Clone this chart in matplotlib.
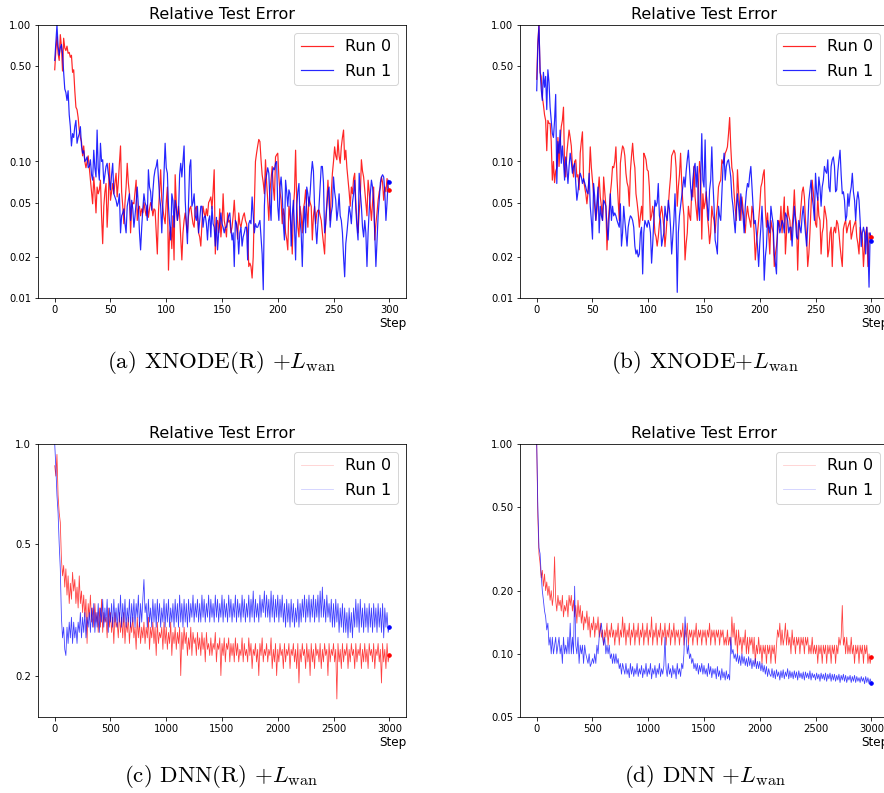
import numpy as np
import matplotlib
matplotlib.use('Agg')
import matplotlib.pyplot as plt
from matplotlib.ticker import FormatStrFormatter, NullLocator

plt.rcParams['mathtext.fontset'] = 'cm'

# (a) XNODE(R) + L_wan, one value per step
a_run0 = [
    0.47, 0.65, 0.82, 0.62, 0.55, 0.85, 0.70, 0.46, 0.80, 0.68,
    0.65, 0.70, 0.62, 0.63, 0.58, 0.60, 0.45, 0.47, 0.33, 0.25,
    0.24, 0.21, 0.17, 0.15, 0.14, 0.11, 0.13, 0.10, 0.09, 0.10,
    0.11, 0.09, 0.073, 0.06, 0.049, 0.077, 0.06, 0.042, 0.065, 0.058,
    0.062, 0.073, 0.04, 0.025, 0.047, 0.06, 0.069, 0.033, 0.05, 0.097,
    0.052, 0.06, 0.069, 0.058, 0.07, 0.082, 0.055, 0.07, 0.097, 0.13,
    0.06, 0.047, 0.035, 0.05, 0.065, 0.097, 0.07, 0.058, 0.03, 0.045,
    0.05, 0.049, 0.06, 0.073, 0.037, 0.045, 0.047, 0.04, 0.045, 0.042,
    0.05, 0.044, 0.04, 0.048, 0.039, 0.045, 0.05, 0.047, 0.04, 0.045,
    0.044, 0.03, 0.021, 0.042, 0.06, 0.087, 0.052, 0.045, 0.039, 0.035,
    0.05, 0.065, 0.016, 0.03, 0.033, 0.023, 0.04, 0.019, 0.08, 0.05,
    0.037, 0.047, 0.04, 0.028, 0.019, 0.03, 0.037, 0.042, 0.035, 0.03,
    0.04, 0.045, 0.047, 0.04, 0.035, 0.033, 0.045, 0.047, 0.04, 0.03,
    0.028, 0.024, 0.035, 0.047, 0.042, 0.039, 0.045, 0.04, 0.05, 0.052,
    0.055, 0.045, 0.06, 0.087, 0.021, 0.035, 0.037, 0.03, 0.045, 0.028,
    0.035, 0.058, 0.037, 0.033, 0.028, 0.042, 0.036, 0.037, 0.03, 0.033,
    0.04, 0.052, 0.037, 0.035, 0.027, 0.042, 0.035, 0.033, 0.037, 0.04,
    0.042, 0.037, 0.035, 0.03, 0.017, 0.018, 0.017, 0.014, 0.02, 0.047,
    0.1, 0.115, 0.13, 0.145, 0.14, 0.103, 0.08, 0.07, 0.058, 0.103,
    0.07, 0.052, 0.037, 0.06, 0.075, 0.092, 0.065, 0.052, 0.108, 0.112,
    0.115, 0.077, 0.06, 0.052, 0.035, 0.045, 0.04, 0.03, 0.027, 0.0225,
    0.047, 0.04, 0.033, 0.021, 0.045, 0.06, 0.121, 0.05, 0.033, 0.028,
    0.047, 0.04, 0.03, 0.045, 0.05, 0.062, 0.045, 0.033, 0.055, 0.05,
    0.047, 0.0266, 0.04, 0.047, 0.035, 0.042, 0.044, 0.044, 0.04, 0.037,
    0.03, 0.025, 0.021, 0.037, 0.05, 0.073, 0.05, 0.037, 0.058, 0.082,
    0.1, 0.128, 0.11, 0.103, 0.144, 0.11, 0.097, 0.128, 0.15, 0.17,
    0.103, 0.121, 0.09, 0.073, 0.06, 0.047, 0.065, 0.058, 0.075, 0.082,
    0.05, 0.037, 0.03, 0.042, 0.055, 0.103, 0.085, 0.077, 0.062, 0.05,
    0.04, 0.073, 0.06, 0.047, 0.037, 0.05, 0.065, 0.0266, 0.035, 0.042,
    0.052, 0.06, 0.065, 0.077, 0.07, 0.052, 0.065, 0.06, 0.075, 0.065,
    0.062,
]
a_run1 = [
    0.55, 0.75, 1.0, 0.70, 0.6, 0.68, 0.72, 0.62, 0.45, 0.34,
    0.32, 0.28, 0.33, 0.22, 0.18, 0.13, 0.16, 0.15, 0.18, 0.2,
    0.136, 0.15, 0.16, 0.18, 0.13, 0.115, 0.12, 0.1, 0.103, 0.108,
    0.09, 0.092, 0.103, 0.08, 0.073, 0.121, 0.09, 0.077, 0.17, 0.09,
    0.073, 0.136, 0.1, 0.103, 0.069, 0.08, 0.092, 0.097, 0.082, 0.073,
    0.062, 0.08, 0.097, 0.058, 0.055, 0.052, 0.047, 0.05, 0.058, 0.03,
    0.04, 0.042, 0.045, 0.035, 0.03, 0.047, 0.052, 0.058, 0.037, 0.052,
    0.045, 0.033, 0.04, 0.05, 0.065, 0.047, 0.03, 0.0225, 0.033, 0.045,
    0.058, 0.05, 0.047, 0.037, 0.087, 0.065, 0.06, 0.044, 0.06, 0.077,
    0.087, 0.092, 0.103, 0.075, 0.055, 0.047, 0.03, 0.05, 0.087, 0.136,
    0.09, 0.082, 0.047, 0.035, 0.0266, 0.058, 0.052, 0.033, 0.052, 0.045,
    0.037, 0.042, 0.08, 0.097, 0.077, 0.1, 0.13, 0.052, 0.035, 0.025,
    0.05, 0.092, 0.103, 0.047, 0.05, 0.058, 0.04, 0.037, 0.047, 0.03,
    0.037, 0.047, 0.047, 0.033, 0.039, 0.04, 0.035, 0.0266, 0.037, 0.04,
    0.028, 0.047, 0.035, 0.033, 0.024, 0.039, 0.0225, 0.03, 0.035, 0.042,
    0.035, 0.033, 0.03, 0.033, 0.033, 0.037, 0.04, 0.042, 0.032, 0.0266,
    0.03, 0.017, 0.037, 0.035, 0.03, 0.021, 0.03, 0.033, 0.024, 0.028,
    0.03, 0.033, 0.033, 0.019, 0.035, 0.037, 0.035, 0.055, 0.04, 0.03,
    0.035, 0.033, 0.033, 0.035, 0.037, 0.028, 0.021, 0.0115, 0.047, 0.073,
    0.08, 0.09, 0.082, 0.05, 0.037, 0.08, 0.09, 0.087, 0.097, 0.1,
    0.047, 0.037, 0.065, 0.077, 0.058, 0.035, 0.0266, 0.073, 0.06, 0.047,
    0.062, 0.058, 0.024, 0.04, 0.052, 0.033, 0.019, 0.047, 0.06, 0.069,
    0.037, 0.03, 0.017, 0.035, 0.047, 0.03, 0.065, 0.058, 0.047, 0.058,
    0.08, 0.1, 0.085, 0.047, 0.033, 0.025, 0.035, 0.047, 0.065, 0.092,
    0.092, 0.07, 0.03, 0.035, 0.047, 0.06, 0.065, 0.033, 0.042, 0.047,
    0.077, 0.06, 0.052, 0.037, 0.044, 0.058, 0.04, 0.037, 0.03, 0.02,
    0.0143, 0.025, 0.03, 0.037, 0.047, 0.042, 0.035, 0.05, 0.058, 0.073,
    0.045, 0.033, 0.0266, 0.082, 0.06, 0.047, 0.033, 0.028, 0.037, 0.03,
    0.017, 0.03, 0.044, 0.058, 0.073, 0.065, 0.05, 0.03, 0.017, 0.0266,
    0.04, 0.052, 0.07, 0.077, 0.08, 0.077, 0.06, 0.037, 0.05, 0.073,
    0.071,
]

# (b) XNODE + L_wan, one value per step
b_run0 = [
    0.40, 0.75, 1.0, 0.45, 0.42, 0.30, 0.26, 0.22, 0.20, 0.12,
    0.20, 0.19, 0.19, 0.14, 0.073, 0.10, 0.07, 0.085, 0.09, 0.15,
    0.092, 0.136, 0.18, 0.2, 0.25, 0.087, 0.077, 0.115, 0.14, 0.17,
    0.15, 0.13, 0.092, 0.077, 0.1, 0.103, 0.077, 0.08, 0.062, 0.115,
    0.14, 0.165, 0.073, 0.065, 0.058, 0.049, 0.06, 0.077, 0.128, 0.09,
    0.073, 0.058, 0.047, 0.037, 0.044, 0.06, 0.077, 0.055, 0.047, 0.037,
    0.077, 0.06, 0.047, 0.0225, 0.035, 0.045, 0.058, 0.07, 0.092, 0.09,
    0.1, 0.128, 0.075, 0.052, 0.037, 0.097, 0.115, 0.13, 0.125, 0.11,
    0.082, 0.07, 0.065, 0.047, 0.085, 0.11, 0.136, 0.103, 0.09, 0.058,
    0.05, 0.042, 0.033, 0.04, 0.047, 0.037, 0.115, 0.11, 0.103, 0.087,
    0.085, 0.065, 0.037, 0.04, 0.047, 0.04, 0.03, 0.028, 0.024, 0.028,
    0.035, 0.042, 0.047, 0.04, 0.033, 0.0238, 0.03, 0.04, 0.047, 0.062,
    0.077, 0.11, 0.115, 0.121, 0.115, 0.09, 0.047, 0.065, 0.08, 0.115,
    0.07, 0.05, 0.04, 0.019, 0.025, 0.03, 0.047, 0.04, 0.037, 0.062,
    0.055, 0.092, 0.055, 0.045, 0.037, 0.065, 0.1, 0.08, 0.027, 0.058,
    0.045, 0.05, 0.06, 0.04, 0.033, 0.025, 0.03, 0.047, 0.04, 0.037,
    0.03, 0.04, 0.047, 0.065, 0.07, 0.073, 0.103, 0.097, 0.1, 0.115,
    0.12, 0.128, 0.16, 0.21, 0.128, 0.09, 0.082, 0.058, 0.045, 0.037,
    0.087, 0.06, 0.047, 0.037, 0.055, 0.045, 0.037, 0.03, 0.04, 0.047,
    0.04, 0.037, 0.033, 0.047, 0.042, 0.03, 0.019, 0.025, 0.03, 0.037,
    0.047, 0.065, 0.07, 0.08, 0.087, 0.045, 0.033, 0.042, 0.03, 0.021,
    0.037, 0.033, 0.03, 0.017, 0.021, 0.024, 0.03, 0.037, 0.033, 0.047,
    0.03, 0.04, 0.055, 0.021, 0.03, 0.047, 0.04, 0.037, 0.0266, 0.033,
    0.042, 0.062, 0.04, 0.035, 0.016, 0.03, 0.037, 0.047, 0.06, 0.065,
    0.055, 0.037, 0.028, 0.017, 0.021, 0.03, 0.047, 0.073, 0.06, 0.047,
    0.035, 0.033, 0.055, 0.04, 0.037, 0.021, 0.03, 0.033, 0.047, 0.042,
    0.037, 0.02, 0.0225, 0.03, 0.033, 0.017, 0.03, 0.033, 0.03, 0.037,
    0.035, 0.03, 0.024, 0.02, 0.017, 0.032, 0.035, 0.037, 0.03, 0.033,
    0.035, 0.037, 0.027, 0.03, 0.033, 0.035, 0.037, 0.028, 0.025, 0.021,
    0.033, 0.03, 0.027, 0.017, 0.024, 0.03, 0.033, 0.017, 0.03, 0.029,
    0.028,
]
b_run1 = [
    0.33, 0.7, 1.0, 0.47, 0.34, 0.28, 0.45, 0.35, 0.42, 0.24,
    0.47, 0.38, 0.25, 0.2, 0.16, 0.15, 0.2, 0.31, 0.069, 0.14,
    0.115, 0.17, 0.097, 0.13, 0.1, 0.073, 0.108, 0.09, 0.069, 0.092,
    0.115, 0.1, 0.082, 0.092, 0.097, 0.069, 0.052, 0.06, 0.073, 0.082,
    0.077, 0.069, 0.075, 0.07, 0.065, 0.06, 0.058, 0.082, 0.047, 0.037,
    0.027, 0.069, 0.055, 0.037, 0.05, 0.065, 0.03, 0.047, 0.04, 0.037,
    0.052, 0.05, 0.047, 0.033, 0.0266, 0.04, 0.058, 0.037, 0.047, 0.04,
    0.042, 0.04, 0.037, 0.035, 0.033, 0.049, 0.024, 0.03, 0.047, 0.037,
    0.03, 0.024, 0.033, 0.037, 0.04, 0.039, 0.037, 0.033, 0.024, 0.021,
    0.0225, 0.02, 0.021, 0.03, 0.033, 0.015, 0.03, 0.037, 0.035, 0.033,
    0.037, 0.035, 0.03, 0.018, 0.025, 0.037, 0.052, 0.047, 0.05, 0.069,
    0.04, 0.037, 0.024, 0.027, 0.03, 0.047, 0.04, 0.037, 0.052, 0.045,
    0.033, 0.021, 0.028, 0.037, 0.058, 0.033, 0.011, 0.03, 0.04, 0.047,
    0.055, 0.065, 0.077, 0.065, 0.085, 0.103, 0.121, 0.09, 0.065, 0.052,
    0.073, 0.09, 0.097, 0.065, 0.092, 0.047, 0.037, 0.073, 0.16, 0.073,
    0.065, 0.144, 0.058, 0.047, 0.037, 0.062, 0.073, 0.128, 0.07, 0.047,
    0.0266, 0.024, 0.021, 0.047, 0.04, 0.037, 0.058, 0.09, 0.115, 0.073,
    0.092, 0.1, 0.103, 0.09, 0.077, 0.055, 0.047, 0.037, 0.03, 0.045,
    0.058, 0.047, 0.037, 0.058, 0.047, 0.04, 0.03, 0.047, 0.06, 0.069,
    0.065, 0.08, 0.092, 0.065, 0.047, 0.035, 0.037, 0.03, 0.024, 0.017,
    0.025, 0.033, 0.047, 0.03, 0.0135, 0.02, 0.024, 0.037, 0.033, 0.03,
    0.047, 0.04, 0.035, 0.021, 0.018, 0.015, 0.037, 0.035, 0.03, 0.033,
    0.037, 0.035, 0.03, 0.042, 0.04, 0.037, 0.03, 0.033, 0.033, 0.024,
    0.035, 0.047, 0.037, 0.028, 0.027, 0.037, 0.033, 0.03, 0.04, 0.047,
    0.037, 0.03, 0.024, 0.033, 0.052, 0.062, 0.073, 0.055, 0.047, 0.037,
    0.082, 0.06, 0.052, 0.077, 0.065, 0.047, 0.065, 0.073, 0.092, 0.085,
    0.082, 0.103, 0.065, 0.06, 0.092, 0.103, 0.108, 0.092, 0.06, 0.062,
    0.085, 0.103, 0.121, 0.08, 0.058, 0.06, 0.052, 0.037, 0.04, 0.058,
    0.047, 0.058, 0.065, 0.082, 0.06, 0.052, 0.037, 0.052, 0.06, 0.052,
    0.037, 0.0238, 0.03, 0.033, 0.03, 0.021, 0.033, 0.0238, 0.012, 0.03,
    0.026,
]

# (c) DNN(R) + L_wan, read every 10 steps
c_run0 = [
    0.86, 0.80, 0.93, 0.70, 0.62, 0.58, 0.45, 0.40, 0.43, 0.37,
    0.42, 0.35, 0.40, 0.33, 0.38, 0.34, 0.41, 0.36, 0.39, 0.33,
    0.37, 0.32, 0.40, 0.33, 0.36, 0.31, 0.35, 0.30, 0.34, 0.25,
    0.33, 0.30, 0.35, 0.29, 0.32, 0.28, 0.33, 0.29, 0.31, 0.27,
    0.32, 0.28, 0.34, 0.27, 0.31, 0.29, 0.30, 0.26, 0.32, 0.28,
    0.31, 0.27, 0.30, 0.25, 0.31, 0.28, 0.29, 0.26, 0.31, 0.27,
    0.30, 0.26, 0.31, 0.25, 0.29, 0.27, 0.30, 0.25, 0.29, 0.27,
    0.30, 0.26, 0.28, 0.24, 0.30, 0.26, 0.29, 0.25, 0.28, 0.26,
    0.29, 0.25, 0.28, 0.26, 0.30, 0.24, 0.28, 0.26, 0.29, 0.25,
    0.28, 0.23, 0.29, 0.25, 0.27, 0.26, 0.28, 0.24, 0.29, 0.25,
    0.28, 0.24, 0.27, 0.25, 0.29, 0.23, 0.27, 0.25, 0.28, 0.24,
    0.27, 0.25, 0.28, 0.20, 0.27, 0.24, 0.28, 0.25, 0.27, 0.23,
    0.26, 0.24, 0.28, 0.23, 0.27, 0.25, 0.26, 0.23, 0.27, 0.24,
    0.26, 0.23, 0.27, 0.24, 0.26, 0.22, 0.27, 0.24, 0.25, 0.23,
    0.26, 0.23, 0.25, 0.24, 0.27, 0.22, 0.25, 0.24, 0.26, 0.20,
    0.25, 0.23, 0.26, 0.22, 0.25, 0.24, 0.26, 0.22, 0.25, 0.23,
    0.25, 0.22, 0.26, 0.23, 0.25, 0.22, 0.24, 0.23, 0.26, 0.22,
    0.25, 0.23, 0.24, 0.22, 0.26, 0.23, 0.25, 0.21, 0.24, 0.23,
    0.25, 0.22, 0.24, 0.20, 0.25, 0.23, 0.26, 0.22, 0.24, 0.23,
    0.25, 0.22, 0.24, 0.23, 0.26, 0.21, 0.24, 0.22, 0.25, 0.20,
    0.24, 0.22, 0.25, 0.23, 0.24, 0.21, 0.25, 0.22, 0.24, 0.23,
    0.25, 0.21, 0.24, 0.23, 0.25, 0.22, 0.24, 0.21, 0.25, 0.19,
    0.24, 0.22, 0.25, 0.23, 0.24, 0.21, 0.25, 0.22, 0.24, 0.20,
    0.25, 0.22, 0.24, 0.21, 0.25, 0.23, 0.24, 0.22, 0.25, 0.21,
    0.24, 0.22, 0.25, 0.23, 0.24, 0.20, 0.25, 0.22, 0.24, 0.23,
    0.25, 0.22, 0.24, 0.17, 0.25, 0.22, 0.24, 0.21, 0.25, 0.22,
    0.24, 0.23, 0.25, 0.21, 0.24, 0.22, 0.25, 0.23, 0.24, 0.21,
    0.25, 0.22, 0.24, 0.23, 0.25, 0.21, 0.24, 0.22, 0.25, 0.22,
    0.24, 0.21, 0.25, 0.23, 0.24, 0.22, 0.25, 0.21, 0.24, 0.23,
    0.25, 0.22, 0.24, 0.19, 0.25, 0.22, 0.24, 0.21, 0.25, 0.22,
    0.23,
]
c_run1 = [
    1.0, 0.85, 0.70, 0.62, 0.50, 0.42, 0.30, 0.26, 0.28, 0.24,
    0.23, 0.28, 0.25, 0.29, 0.26, 0.30, 0.25, 0.29, 0.26, 0.28,
    0.25, 0.29, 0.27, 0.31, 0.26, 0.30, 0.27, 0.31, 0.26, 0.30,
    0.28, 0.31, 0.27, 0.32, 0.28, 0.33, 0.27, 0.31, 0.28, 0.33,
    0.27, 0.32, 0.29, 0.34, 0.28, 0.32, 0.29, 0.34, 0.27, 0.32,
    0.29, 0.33, 0.28, 0.34, 0.29, 0.32, 0.28, 0.33, 0.29, 0.35,
    0.28, 0.33, 0.29, 0.34, 0.28, 0.32, 0.29, 0.34, 0.28, 0.33,
    0.29, 0.34, 0.28, 0.33, 0.30, 0.35, 0.28, 0.33, 0.29, 0.34,
    0.39, 0.31, 0.33, 0.28, 0.34, 0.29, 0.32, 0.28, 0.34, 0.29,
    0.33, 0.28, 0.34, 0.29, 0.33, 0.28, 0.32, 0.29, 0.34, 0.28,
    0.33, 0.29, 0.34, 0.28, 0.32, 0.29, 0.33, 0.28, 0.34, 0.29,
    0.33, 0.28, 0.35, 0.29, 0.33, 0.28, 0.34, 0.29, 0.33, 0.28,
    0.34, 0.29, 0.33, 0.30, 0.35, 0.29, 0.33, 0.30, 0.34, 0.29,
    0.33, 0.29, 0.35, 0.30, 0.34, 0.29, 0.33, 0.30, 0.35, 0.29,
    0.34, 0.30, 0.33, 0.29, 0.35, 0.30, 0.34, 0.29, 0.33, 0.30,
    0.35, 0.29, 0.34, 0.30, 0.33, 0.29, 0.35, 0.30, 0.34, 0.29,
    0.33, 0.30, 0.35, 0.29, 0.34, 0.30, 0.33, 0.29, 0.35, 0.30,
    0.34, 0.29, 0.33, 0.30, 0.35, 0.29, 0.34, 0.30, 0.36, 0.29,
    0.34, 0.30, 0.33, 0.29, 0.35, 0.30, 0.34, 0.31, 0.36, 0.30,
    0.35, 0.30, 0.34, 0.29, 0.36, 0.30, 0.35, 0.29, 0.34, 0.30,
    0.35, 0.29, 0.34, 0.30, 0.35, 0.29, 0.33, 0.28, 0.34, 0.29,
    0.33, 0.28, 0.34, 0.29, 0.33, 0.28, 0.32, 0.29, 0.34, 0.28,
    0.33, 0.29, 0.34, 0.30, 0.35, 0.29, 0.34, 0.30, 0.35, 0.29,
    0.34, 0.30, 0.35, 0.29, 0.34, 0.30, 0.35, 0.29, 0.36, 0.30,
    0.37, 0.30, 0.34, 0.29, 0.35, 0.30, 0.33, 0.29, 0.34, 0.28,
    0.33, 0.28, 0.34, 0.29, 0.33, 0.27, 0.32, 0.28, 0.33, 0.27,
    0.32, 0.27, 0.31, 0.26, 0.32, 0.27, 0.31, 0.26, 0.32, 0.28,
    0.34, 0.28, 0.33, 0.27, 0.34, 0.28, 0.32, 0.27, 0.33, 0.28,
    0.32, 0.27, 0.33, 0.28, 0.32, 0.27, 0.33, 0.28, 0.32, 0.27,
    0.33, 0.28, 0.32, 0.27, 0.33, 0.26, 0.32, 0.28, 0.31, 0.27,
    0.28,
]

# (d) DNN + L_wan, read every 10 steps
d_run0 = [
    1.0, 0.45, 0.30, 0.27, 0.23, 0.25, 0.21, 0.24, 0.20, 0.22,
    0.19, 0.21, 0.18, 0.20, 0.17, 0.19, 0.29, 0.18, 0.16, 0.19,
    0.17, 0.18, 0.16, 0.19, 0.15, 0.17, 0.16, 0.18, 0.15, 0.19,
    0.17, 0.19, 0.16, 0.18, 0.15, 0.17, 0.14, 0.18, 0.15, 0.17,
    0.14, 0.16, 0.13, 0.15, 0.14, 0.16, 0.13, 0.15, 0.12, 0.14,
    0.13, 0.15, 0.12, 0.14, 0.13, 0.15, 0.12, 0.14, 0.12, 0.13,
    0.11, 0.13, 0.12, 0.14, 0.11, 0.13, 0.12, 0.14, 0.12, 0.13,
    0.11, 0.13, 0.12, 0.14, 0.11, 0.13, 0.12, 0.15, 0.12, 0.14,
    0.11, 0.13, 0.12, 0.14, 0.11, 0.13, 0.12, 0.14, 0.11, 0.13,
    0.12, 0.14, 0.11, 0.13, 0.12, 0.14, 0.11, 0.13, 0.12, 0.14,
    0.11, 0.13, 0.12, 0.15, 0.11, 0.13, 0.12, 0.14, 0.11, 0.13,
    0.12, 0.14, 0.11, 0.13, 0.12, 0.14, 0.11, 0.13, 0.12, 0.14,
    0.11, 0.13, 0.12, 0.14, 0.11, 0.13, 0.12, 0.13, 0.11, 0.13,
    0.12, 0.14, 0.11, 0.13, 0.12, 0.14, 0.11, 0.13, 0.12, 0.13,
    0.11, 0.13, 0.12, 0.14, 0.11, 0.13, 0.12, 0.13, 0.11, 0.13,
    0.12, 0.13, 0.11, 0.13, 0.12, 0.14, 0.11, 0.13, 0.12, 0.13,
    0.11, 0.13, 0.12, 0.13, 0.11, 0.13, 0.12, 0.13, 0.11, 0.12,
    0.11, 0.13, 0.11, 0.12, 0.11, 0.15, 0.12, 0.14, 0.11, 0.13,
    0.10, 0.13, 0.11, 0.12, 0.10, 0.12, 0.11, 0.13, 0.10, 0.12,
    0.10, 0.12, 0.11, 0.12, 0.10, 0.12, 0.09, 0.11, 0.10, 0.12,
    0.10, 0.11, 0.09, 0.11, 0.10, 0.11, 0.09, 0.11, 0.10, 0.11,
    0.09, 0.11, 0.10, 0.11, 0.09, 0.11, 0.13, 0.12, 0.14, 0.11,
    0.13, 0.11, 0.12, 0.14, 0.11, 0.13, 0.11, 0.12, 0.10, 0.13,
    0.11, 0.12, 0.10, 0.12, 0.11, 0.12, 0.10, 0.12, 0.11, 0.12,
    0.10, 0.12, 0.11, 0.12, 0.10, 0.11, 0.10, 0.12, 0.10, 0.11,
    0.10, 0.11, 0.09, 0.11, 0.10, 0.11, 0.09, 0.11, 0.10, 0.11,
    0.09, 0.11, 0.10, 0.11, 0.09, 0.11, 0.10, 0.11, 0.09, 0.11,
    0.10, 0.12, 0.11, 0.12, 0.17, 0.11, 0.12, 0.10, 0.12, 0.10,
    0.11, 0.10, 0.12, 0.10, 0.11, 0.09, 0.11, 0.10, 0.11, 0.09,
    0.11, 0.10, 0.11, 0.09, 0.11, 0.10, 0.11, 0.09, 0.10, 0.09,
    0.097,
]
d_run1 = [
    1.0, 0.50, 0.32, 0.30, 0.24, 0.20, 0.18, 0.16, 0.15, 0.13,
    0.14, 0.11, 0.12, 0.10, 0.12, 0.10, 0.11, 0.12, 0.10, 0.11,
    0.12, 0.10, 0.11, 0.09, 0.12, 0.10, 0.11, 0.10, 0.12, 0.10,
    0.14, 0.10, 0.12, 0.10, 0.21, 0.11, 0.10, 0.12, 0.09, 0.11,
    0.10, 0.11, 0.09, 0.11, 0.10, 0.095, 0.09, 0.10, 0.087, 0.09,
    0.095, 0.09, 0.10, 0.09, 0.11, 0.10, 0.12, 0.13, 0.14, 0.12,
    0.11, 0.12, 0.10, 0.11, 0.10, 0.11, 0.095, 0.10, 0.09, 0.10,
    0.09, 0.10, 0.09, 0.095, 0.085, 0.09, 0.08, 0.09, 0.085, 0.08,
    0.09, 0.08, 0.085, 0.077, 0.09, 0.08, 0.087, 0.078, 0.085, 0.08,
    0.09, 0.078, 0.085, 0.08, 0.088, 0.077, 0.085, 0.08, 0.09, 0.078,
    0.085, 0.08, 0.09, 0.076, 0.085, 0.08, 0.088, 0.077, 0.085, 0.08,
    0.09, 0.078, 0.085, 0.08, 0.088, 0.12, 0.085, 0.078, 0.09, 0.08,
    0.085, 0.077, 0.088, 0.08, 0.085, 0.076, 0.09, 0.08, 0.085, 0.078,
    0.09, 0.085, 0.10, 0.15, 0.12, 0.10, 0.11, 0.095, 0.10, 0.09,
    0.095, 0.085, 0.09, 0.083, 0.09, 0.08, 0.088, 0.082, 0.09, 0.08,
    0.088, 0.08, 0.085, 0.078, 0.09, 0.08, 0.087, 0.077, 0.085, 0.08,
    0.085, 0.076, 0.087, 0.078, 0.083, 0.075, 0.085, 0.077, 0.082, 0.075,
    0.083, 0.076, 0.08, 0.075, 0.12, 0.10, 0.105, 0.095, 0.10, 0.092,
    0.10, 0.09, 0.098, 0.088, 0.10, 0.09, 0.097, 0.088, 0.095, 0.087,
    0.097, 0.088, 0.095, 0.085, 0.093, 0.087, 0.095, 0.085, 0.092, 0.085,
    0.092, 0.083, 0.09, 0.082, 0.088, 0.08, 0.087, 0.078, 0.085, 0.08,
    0.078, 0.085, 0.077, 0.083, 0.076, 0.084, 0.078, 0.082, 0.075, 0.083,
    0.077, 0.084, 0.076, 0.082, 0.078, 0.085, 0.076, 0.083, 0.077, 0.082,
    0.076, 0.083, 0.077, 0.082, 0.075, 0.083, 0.077, 0.081, 0.076, 0.082,
    0.075, 0.082, 0.077, 0.081, 0.076, 0.083, 0.075, 0.081, 0.077, 0.08,
    0.075, 0.081, 0.076, 0.08, 0.074, 0.081, 0.076, 0.08, 0.075, 0.081,
    0.074, 0.08, 0.076, 0.081, 0.074, 0.08, 0.075, 0.08, 0.074, 0.079,
    0.075, 0.08, 0.073, 0.079, 0.075, 0.08, 0.074, 0.079, 0.073, 0.078,
    0.075, 0.079, 0.073, 0.078, 0.074, 0.079, 0.073, 0.078, 0.074, 0.077,
    0.073, 0.078, 0.074, 0.077, 0.072, 0.078, 0.073, 0.077, 0.072, 0.076,
    0.073,
]

captions = [r'(a) XNODE(R) $+L_{\rm wan}$', r'(b) XNODE$+L_{\rm wan}$',
            r'(c) DNN(R) $+L_{\rm wan}$', r'(d) DNN $+L_{\rm wan}$']

W, H = 884, 793
fig = plt.figure(figsize=(W / 72, H / 72), dpi=72)


def panel(left_px, top_px, run0, run1, stride, yticks, fmt, ylim, thin):
    ax = fig.add_axes([left_px / W, 1 - (top_px + 273) / H, 368 / W, 273 / H])
    x0 = np.arange(len(run0)) * stride
    x1 = np.arange(len(run1)) * stride
    if thin:
        kw = dict(lw=0.8, alpha=0.75)
    else:
        kw = dict(lw=1.2, alpha=0.85)
    ax.plot(x0, run0, color='red', label='Run 0', **kw)
    ax.plot(x1, run1, color='blue', label='Run 1', **kw)
    ax.plot(x0[-1], run0[-1], 'o', color='red', ms=3.5)
    ax.plot(x1[-1], run1[-1], 'o', color='blue', ms=3.5)
    ax.set_yscale('log')
    ax.set_ylim(*ylim)
    ax.set_yticks(yticks)
    ax.yaxis.set_major_formatter(FormatStrFormatter(fmt))
    ax.yaxis.set_minor_locator(NullLocator())
    ax.tick_params(labelsize=10)
    ax.set_title('Relative Test Error', fontsize=16)
    ax.set_xlabel('Step', loc='right', fontsize=12, labelpad=2)
    leg = ax.legend(loc='upper right', fontsize=16, labelspacing=0.6)
    if thin:
        for h in leg.get_lines():
            h.set_alpha(0.2)
    return ax


panel(38, 25, a_run0, a_run1, 1, [0.01, 0.02, 0.05, 0.1, 0.5, 1.0], '%.2f', (0.01, 1.0), False)
panel(520, 25, b_run0, b_run1, 1, [0.01, 0.02, 0.05, 0.1, 0.5, 1.0], '%.2f', (0.01, 1.0), False)
panel(38, 444, c_run0, c_run1, 10, [0.2, 0.5, 1.0], '%.1f', (0.15, 1.0), True)
panel(520, 444, d_run0, d_run1, 10, [0.05, 0.1, 0.2, 0.5, 1.0], '%.2f', (0.05, 1.0), True)

cap_pos = [(221, 362), (705, 362), (221, 777), (705, 777)]
for (cx, cy), cap in zip(cap_pos, captions):
    fig.text(cx / W, 1 - cy / H, cap, fontfamily='cmr10', fontsize=23,
             ha='center', va='center')

fig.savefig('out.png', dpi=72)
